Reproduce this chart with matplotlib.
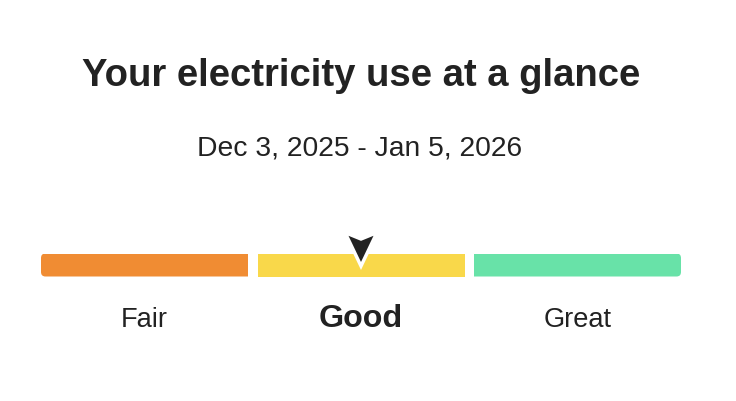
import matplotlib
matplotlib.use("Agg")
import matplotlib.pyplot as plt
from matplotlib.patches import PathPatch, Polygon
from matplotlib.path import Path
from matplotlib.transforms import Affine2D, ScaledTranslation, blended_transform_factory

plt.rcParams['font.family'] = ['Liberation Sans', 'DejaVu Sans']

title = "Your electricity use at a glance"
period = "Dec 3, 2025 - Jan 5, 2026"
levels = ["Fair", "Good", "Great"]
level_colors = ["#F08C33", "#F9D84A", "#68E2A8"]
current = "Good"
score = 1.0  # position on the category scale (centre of "Good")

W, H = 736, 402
text_color = "#222222"


def segment_path(x0, x1, y0, y1, rx, ry, round_left, round_right):
    # rectangle with optional rounded corners on the left / right side
    verts, codes = [], []
    if round_left:
        verts += [(x0 + rx, y0)]
    else:
        verts += [(x0, y0)]
    codes += [Path.MOVETO]
    if round_right:
        verts += [(x1 - rx, y0), (x1, y0), (x1, y0 + ry),
                  (x1, y1 - ry), (x1, y1), (x1 - rx, y1)]
        codes += [Path.LINETO, Path.CURVE3, Path.CURVE3,
                  Path.LINETO, Path.CURVE3, Path.CURVE3]
    else:
        verts += [(x1, y0), (x1, y1)]
        codes += [Path.LINETO, Path.LINETO]
    if round_left:
        verts += [(x0 + rx, y1), (x0, y1), (x0, y1 - ry),
                  (x0, y0 + ry), (x0, y0), (x0 + rx, y0)]
        codes += [Path.LINETO, Path.CURVE3, Path.CURVE3,
                  Path.LINETO, Path.CURVE3, Path.CURVE3]
    else:
        verts += [(x0, y1), (x0, y0)]
        codes += [Path.LINETO, Path.LINETO]
    verts += [verts[0]]
    codes += [Path.CLOSEPOLY]
    return Path(verts, codes)


fig = plt.figure(figsize=(W / 100, H / 100), dpi=100)
fig.patch.set_facecolor("white")

# bar strip: equal segments with a 9.5px gap, 640px in total
strip_px = 640
gap_px = 9.5
seg_px = (strip_px - 2 * gap_px) / 3
unit_px = seg_px + gap_px
bw = seg_px / unit_px

ax = fig.add_axes([41 / W, (H - 277.5) / H, strip_px / W, 23 / H])
ax.set_xlim(-bw / 2, len(levels) - 1 + bw / 2)
ax.set_ylim(0, 1)
ax.set_axis_off()

rx = 4.5 / unit_px
ry = 4.5 / 23

n = len(levels)
for i, col in enumerate(level_colors):
    p = segment_path(i - bw / 2, i + bw / 2, 0, 1, rx, ry, i == 0, i == n - 1)
    ax.add_patch(PathPatch(p, fc=col, ec="none"))

# pointer (pixel shape, tip anchored at the score)
shape = [(-16, 31), (0, 24.5), (16, 31), (0, -2.5)]
tr = Affine2D() + ScaledTranslation(score, 13 / 23, ax.transData)
ax.add_patch(Polygon(shape, closed=True, fc="#222222", ec="white", lw=2.5,
                     joinstyle="miter", transform=tr, clip_on=False, zorder=5))

# labels under the bar
lab_tr = blended_transform_factory(ax.transData, fig.transFigure)
for i, name in enumerate(levels):
    bold = name == current
    ax.text(i, (H - 327.5) / H, name, transform=lab_tr, ha="center",
            va="baseline", color=text_color,
            fontsize=23.2 if bold else 19.6,
            fontweight="bold" if bold else "normal", clip_on=False)

fig.text(361 / W, (H - 86) / H, title, ha="center", va="baseline",
         fontsize=27.5, fontweight="bold", color=text_color)
fig.text(360 / W, (H - 155.5) / H, period, ha="center", va="baseline",
         fontsize=20.3, color=text_color)

fig.savefig("out.png", dpi=100, facecolor="white")
